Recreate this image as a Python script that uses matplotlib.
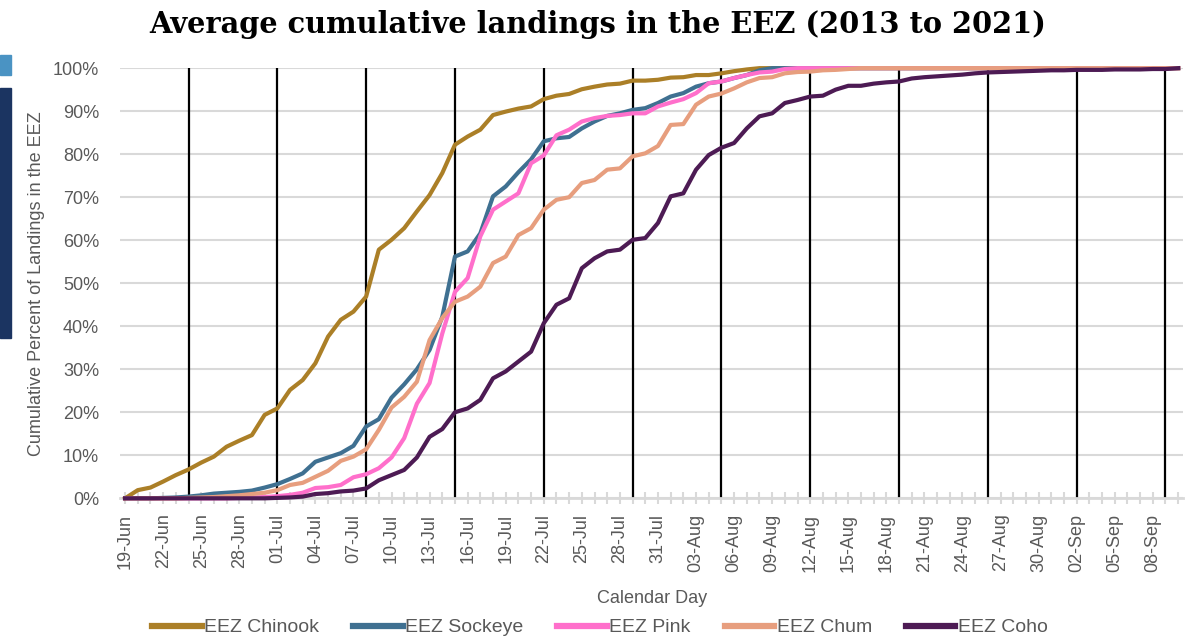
import matplotlib
matplotlib.use("Agg")
import matplotlib.pyplot as plt
import matplotlib.patches as mpatches
from matplotlib.ticker import PercentFormatter, MultipleLocator
import numpy as np
import pandas as pd

# daily calendar from 19-Jun to 10-Sep
days = pd.date_range("2021-06-19", "2021-09-10", freq="D")
day_labels = [d.strftime("%d-%b") for d in days]

# cumulative percent of landings, one value per day
chinook = [0, 1.9, 2.5, 3.9, 5.4, 6.7, 8.3, 9.7, 12.0, 13.4,
           14.7, 19.4, 20.9, 25.2, 27.5, 31.4, 37.6, 41.5, 43.4, 46.9,
           57.8, 60.1, 62.8, 66.7, 70.5, 75.6, 82.2, 84.1, 85.7, 89.1,
           89.9, 90.6, 91.1, 92.8, 93.6, 94.0, 95.1, 95.7, 96.2, 96.4,
           97.1, 97.1, 97.3, 97.8, 97.9, 98.4, 98.4, 98.8, 99.3, 99.7,
           100] + [100] * 33
sockeye = [0, 0, 0, 0.1, 0.2, 0.4, 0.7, 1.1, 1.3, 1.5,
           1.8, 2.5, 3.3, 4.5, 5.8, 8.5, 9.5, 10.5, 12.2, 16.7,
           18.4, 23.4, 26.5, 30.0, 34.5, 42.2, 56.2, 57.4, 61.6, 70.2,
           72.5, 75.8, 78.8, 83.0, 83.7, 84.0, 86.0, 87.6, 88.9, 89.5,
           90.3, 90.7, 91.9, 93.4, 94.2, 95.7, 96.5, 96.9, 97.7, 98.4,
           99.5] + [100] * 33
pink = [0, 0, 0, 0, 0, 0, 0, 0, 0, 0.1,
        0.2, 0.3, 0.5, 0.8, 1.3, 2.4, 2.6, 3.1, 4.9, 5.6,
        7.0, 9.5, 14.0, 22.0, 26.8, 38.3, 48.0, 51.2, 60.9, 67.1,
        69.0, 70.9, 77.9, 79.7, 84.4, 85.7, 87.6, 88.4, 88.9, 89.1,
        89.5, 89.5, 91.1, 92.0, 92.8, 94.2, 96.5, 96.9, 97.7, 98.4,
        99.0, 99.2, 99.8] + [100] * 31
chum = [0, 0, 0, 0, 0, 0.1, 0.2, 0.3, 0.5, 0.7,
        1.0, 1.3, 1.9, 3.1, 3.6, 5.0, 6.4, 8.7, 9.7, 11.4,
        15.9, 21.1, 23.6, 27.1, 36.8, 41.9, 45.7, 46.9, 49.2, 54.7,
        56.2, 61.2, 62.8, 67.1, 69.4, 70.0, 73.3, 74.0, 76.4, 76.7,
        79.5, 80.2, 81.9, 86.8, 87.0, 91.5, 93.4, 94.1, 95.3, 96.7,
        97.7, 97.9, 98.8, 99.1, 99.2, 99.5, 99.6, 99.8] + [100] * 26
coho = [0, 0, 0, 0, 0, 0, 0, 0, 0, 0,
        0, 0, 0.1, 0.2, 0.4, 1.0, 1.2, 1.6, 1.8, 2.3,
        4.2, 5.4, 6.6, 9.5, 14.3, 16.1, 20.0, 20.9, 22.9, 27.9,
        29.5, 31.8, 34.1, 40.7, 45.0, 46.5, 53.5, 55.8, 57.4, 57.8,
        60.1, 60.5, 64.0, 70.2, 70.9, 76.4, 79.8, 81.5, 82.6, 86.0,
        88.8, 89.5, 91.9, 92.6, 93.4, 93.6, 95.0, 95.9, 95.9, 96.4,
        96.7, 96.9, 97.6, 97.9, 98.1, 98.3, 98.5, 98.8, 99.0, 99.1,
        99.2, 99.3, 99.4, 99.5, 99.5, 99.6, 99.6, 99.6, 99.7, 99.7,
        99.7, 99.8, 99.8, 100]

series = [("EEZ Chinook", chinook, "#AB7F27"),
          ("EEZ Sockeye", sockeye, "#3F7091"),
          ("EEZ Pink", pink, "#FF6FCB"),
          ("EEZ Chum", chum, "#E79E7E"),
          ("EEZ Coho", coho, "#4D1B54")]

# weekly marker lines, starting 24-Jun
week_lines = np.arange(5, len(days), 7)

sans = "Liberation Sans"
grey = "#595959"

fig = plt.figure(figsize=(11.88, 6.43), dpi=100)
ax = fig.add_axes([0.101, 0.225, 0.895, 0.669])

x = np.arange(len(days))
for name, vals, col in series:
    ax.plot(x, vals, color=col, lw=3.0, label=name, clip_on=False,
            solid_joinstyle="round", zorder=3)

for w in week_lines:
    ax.axvline(w, color="black", lw=1.6, zorder=2)

ax.set_xlim(-0.4, len(days) - 0.6)
ax.set_ylim(0, 100)
ax.yaxis.set_major_locator(MultipleLocator(10))
ax.yaxis.set_major_formatter(PercentFormatter(100, decimals=0))
ax.grid(axis="y", color="#D9D9D9", lw=1.5, zorder=1)

ax.set_xticks(x[::3])
ax.set_xticklabels(day_labels[::3], rotation=90, family=sans,
                   fontsize=13, color=grey)
ax.set_xticks(x, minor=True)
ax.tick_params(axis="x", which="both", direction="inout", length=8,
               width=1.5, color="#D9D9D9", pad=7)
ax.tick_params(axis="y", length=0, pad=15)
for lab in ax.get_yticklabels():
    lab.set_family(sans)
    lab.set_fontsize(13)
    lab.set_color(grey)

for s in ["top", "right", "left"]:
    ax.spines[s].set_visible(False)
ax.spines["bottom"].set_color("#D9D9D9")
ax.spines["bottom"].set_linewidth(2)

ax.set_xlabel("Calendar Day", family=sans, fontsize=13, color=grey,
              labelpad=13)
ax.set_ylabel("Cumulative Percent of Landings in the EEZ", family=sans,
              fontsize=13, color=grey, labelpad=6)

fig.text(0.503, 0.962, "Average cumulative landings in the EEZ (2013 to 2021)",
         ha="center", va="center", fontsize=20.8, weight="bold",
         family="DejaVu Serif")

leg = fig.legend(loc="center", bbox_to_anchor=(0.505, 0.024), ncol=5,
                 frameon=False, handlelength=2.55, handletextpad=0.12,
                 columnspacing=1.75, prop={"family": sans, "size": 14})
for t in leg.get_texts():
    t.set_color(grey)
for h in leg.get_lines():
    h.set_linewidth(4.5)

# side tabs on the left edge
fig.patches.append(mpatches.Rectangle((0, 1 - 75 / 643), 11 / 1188, 20 / 643,
                                      transform=fig.transFigure,
                                      color="#4A93C3", zorder=0))
fig.patches.append(mpatches.Rectangle((0, 1 - 338 / 643), 11 / 1188, 250 / 643,
                                      transform=fig.transFigure,
                                      color="#1B3461", zorder=0))

fig.savefig("out.png", dpi=100)
